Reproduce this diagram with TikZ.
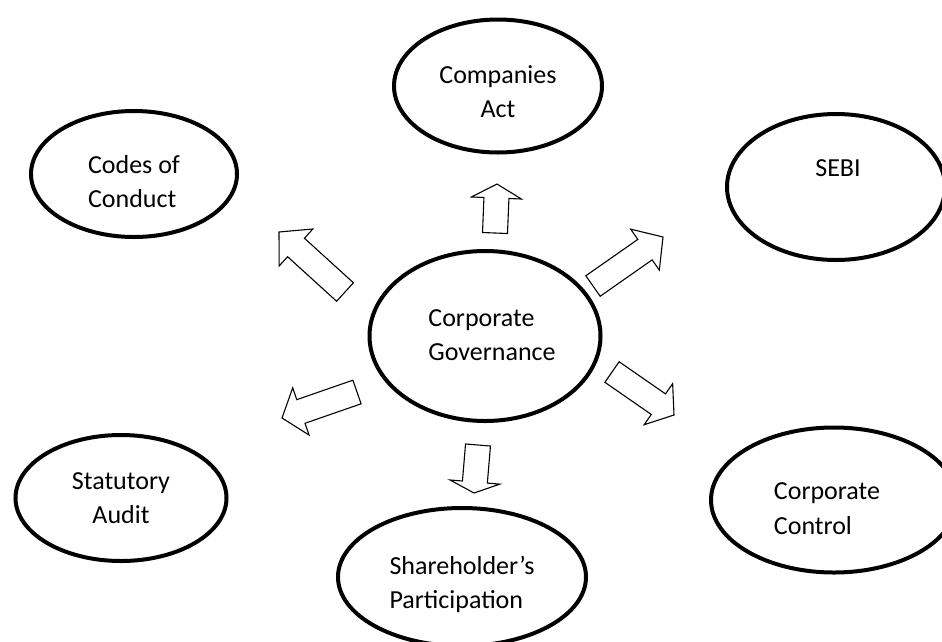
\documentclass[tikz,border=0pt]{standalone}
\usepackage{fontspec}
\setmainfont{Carlito}
\usetikzlibrary{calc,shapes.geometric}
\tikzset{
  bubble/.style={draw, ellipse, line width=4pt, inner sep=0pt},
  lbl/.style={inner sep=0pt, font=\fontsize{26}{34.5}\selectfont},
  blockarrow/.style={draw, line width=1.1pt, line join=miter, fill=white}
}
\begin{document}
\begin{tikzpicture}[x=1pt, y=-1pt]
  \useasboundingbox (0,0) rectangle (942,641);
  % ellipses
  \node[bubble, minimum width=231, minimum height=170] (gov) at (485,336) {};
  \node[bubble, minimum width=208, minimum height=133] (act) at (498,86) {};
  \node[bubble, minimum width=206, minimum height=126] (codes) at (134,174) {};
  \node[bubble, minimum width=218, minimum height=146] (sebi) at (836,187) {};
  \node[bubble, minimum width=246, minimum height=145] (ctrl) at (834,500) {};
  \node[bubble, minimum width=211, minimum height=126] (audit) at (121,498) {};
  \node[bubble, minimum width=248, minimum height=138] (share) at (462,577) {};
  % texts
  \node[lbl, align=left] (govtxt) at ($(gov)+(7,-1)$) {Corporate\\Governance};
  \node[lbl, align=center] (acttxt) at ($(act)+(0,5.5)$) {Companies\\Act};
  \node[lbl, align=left] (codestxt) at ($(codes)+(0,7.5)$) {Codes of\\Conduct};
  \node[lbl] (sebitxt) at ($(sebi)+(2,-19)$) {SEBI};
  \node[lbl, align=left] (ctrltxt) at ($(ctrl)+(-7,8.5)$) {Corporate\\Control};
  \node[lbl, align=center] (audittxt) at (audit) {Statutory\\Audit};
  \node[lbl, align=left] (sharetxt) at ($(share)+(0,7.5)$) {Shareholder’s\\Participation};
  % tails and tips of the block arrows
  \coordinate (t1) at (495,233); \coordinate (h1) at (497,184);
  \coordinate (t2) at (345,292); \coordinate (h2) at (279,232);
  \coordinate (t3) at (593,286); \coordinate (h3) at (663,237);
  \coordinate (t4) at (612,372); \coordinate (h4) at (674,415);
  \coordinate (t5) at (478,445); \coordinate (h5) at (474,493);
  \coordinate (t6) at (357,392); \coordinate (h6) at (282,418);
  \foreach \i/\hl in {1/14,2/23,3/22,4/19,5/11,6/20} {
    \coordinate (b\i) at ($(h\i)!\hl pt!(t\i)$);
    \draw[blockarrow] ($(t\i)!12.5pt!90:(h\i)$) -- ($(b\i)!12.5pt!90:(h\i)$)
      -- ($(b\i)!25pt!90:(h\i)$) -- (h\i) -- ($(b\i)!25pt!-90:(h\i)$)
      -- ($(b\i)!12.5pt!-90:(h\i)$) -- ($(t\i)!12.5pt!-90:(h\i)$) -- cycle;
  }
\end{tikzpicture}
\end{document}
